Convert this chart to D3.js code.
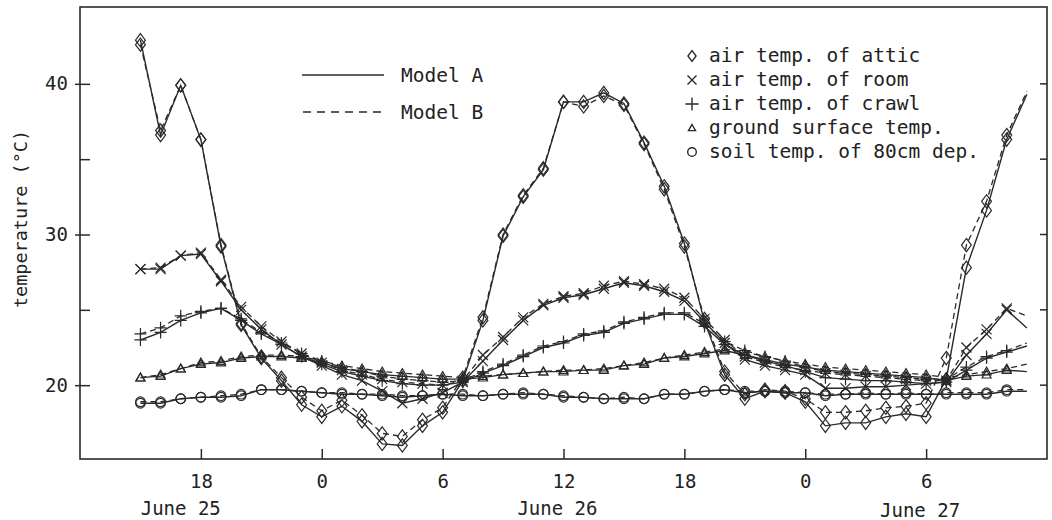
<!DOCTYPE html>
<html><head><meta charset="utf-8">
<script src="https://cdn.jsdelivr.net/npm/d3@7"></script>
<style>
html,body{margin:0;padding:0;background:#fff;}
svg{display:block;font-family:"DejaVu Sans Mono",monospace;}
</style></head>
<body><svg id="c" width="1052" height="520"></svg>
<script>
// hours relative to June 26, 0h
const hours = [-9,-8,-7,-6,-5,-4,-3,-2,-1,0,1,2,3,4,5,6,7,8,9,10,11,12,13,14,15,16,17,18,19,20,21,22,23,24,25,26,27,28,29,30,31,32,33,34,35];

const atticA = [42.9,36.6,39.9,36.3,29.2,24.0,21.8,20.3,18.7,17.9,18.6,17.6,16.1,16.0,17.3,18.2,20.3,24.3,29.9,32.5,34.3,38.8,38.8,39.4,38.7,36.1,33.2,29.4,24.2,20.7,19.1,19.6,19.5,18.9,17.3,17.5,17.5,17.9,18.1,17.9,20.4,27.8,31.6,36.3,39.3];
const atticB = [42.6,36.9,39.9,36.3,29.3,24.1,21.9,20.5,19.2,18.3,19.0,18.0,16.8,16.6,17.7,18.5,20.5,24.5,30.0,32.6,34.4,38.8,38.5,39.2,38.6,36.0,33.0,29.2,24.4,20.9,19.4,19.7,19.6,19.1,18.2,18.2,18.3,18.5,18.6,18.8,21.8,29.3,32.2,36.6,39.5];

const roomA = [27.7,27.7,28.6,28.7,26.9,25.0,23.7,22.7,21.9,21.3,20.7,20.3,19.6,18.8,19.1,19.5,20.2,21.6,23.0,24.3,25.3,25.8,26.0,26.4,26.8,26.6,26.2,25.6,24.2,22.8,21.7,21.3,21.0,20.7,19.8,19.8,19.9,19.9,20.0,20.1,20.2,22.0,23.4,25.0,23.8];
const roomB = [27.7,27.8,28.6,28.8,27.0,25.2,23.9,22.9,22.1,21.5,21.0,20.7,20.4,20.2,20.1,20.0,20.3,22.0,23.2,24.5,25.4,25.9,26.1,26.6,26.9,26.7,26.4,25.8,24.4,23.0,21.9,21.5,21.2,21.0,20.8,20.7,20.6,20.5,20.4,20.3,20.3,22.5,23.7,25.1,24.6];

const crawlA = [23.0,23.5,24.3,24.8,25.1,24.3,23.4,22.7,21.9,21.4,20.9,20.6,20.3,20.1,20.0,20.0,20.2,20.8,21.3,21.9,22.5,22.8,23.3,23.5,24.1,24.4,24.7,24.7,23.9,22.7,22.0,21.6,21.3,20.9,20.5,20.4,20.3,20.3,20.2,20.1,20.2,21.0,21.8,22.2,22.6];
const crawlB = [23.4,23.8,24.6,24.9,25.1,24.4,23.5,22.8,22.1,21.6,21.2,20.9,20.6,20.4,20.3,20.2,20.3,20.9,21.4,22.0,22.6,22.9,23.4,23.6,24.2,24.5,24.8,24.8,24.1,22.9,22.3,21.9,21.6,21.2,20.9,20.8,20.7,20.6,20.5,20.4,20.4,21.2,21.9,22.3,22.8];

const groundA = [20.5,20.6,21.1,21.4,21.5,21.8,21.9,21.9,21.8,21.5,21.1,20.9,20.7,20.6,20.5,20.4,20.4,20.5,20.7,20.8,20.9,20.9,21.0,21.0,21.3,21.4,21.8,21.9,22.1,22.3,22.0,21.7,21.4,21.2,21.0,20.9,20.8,20.7,20.6,20.5,20.3,20.6,20.7,21.0,20.9];
const groundB = [20.5,20.7,21.1,21.5,21.6,21.9,22.0,22.0,21.9,21.6,21.3,21.1,20.9,20.8,20.7,20.6,20.5,20.6,20.7,20.8,20.9,21.0,21.0,21.1,21.3,21.5,21.8,22.0,22.2,22.4,22.2,21.9,21.6,21.4,21.2,21.1,21.0,20.9,20.8,20.7,20.5,20.7,20.9,21.1,21.4];

const soilA = [18.8,18.8,19.1,19.2,19.2,19.3,19.7,19.7,19.6,19.5,19.4,19.4,19.3,19.2,19.3,19.4,19.3,19.3,19.4,19.4,19.4,19.2,19.2,19.1,19.1,19.1,19.4,19.4,19.6,19.7,19.5,19.6,19.5,19.5,19.3,19.4,19.4,19.4,19.4,19.4,19.4,19.4,19.4,19.6,19.6];
const soilB = [18.9,18.9,19.1,19.2,19.3,19.4,19.7,19.7,19.6,19.5,19.5,19.4,19.4,19.3,19.3,19.4,19.4,19.3,19.4,19.5,19.4,19.3,19.2,19.1,19.2,19.1,19.4,19.4,19.6,19.7,19.6,19.6,19.6,19.5,19.4,19.4,19.5,19.4,19.5,19.4,19.5,19.5,19.5,19.7,19.7];

const xTickHours = [-6,0,6,12,18,24,30];
const xTickLabels = ["18","0","6","12","18","0","6"];
const dayLabels = ["June 25","June 26","June 27"];
const dayLabelHours = [-7,11.7,29.7];
const yTicks = [20,25,30,35,40];
const modelNames = ["Model A","Model B"];
const seriesNames = ["air temp. of attic","air temp. of room","air temp. of crawl","ground surface temp.","soil temp. of 80cm dep."];
const yTitle = "temperature (°C)";

const svg = d3.select("#c");
const L=80, R=1047, T=7, B=459;
const x = d3.scaleLinear().domain([-12,36]).range([L,R]);
const y = d3.scaleLinear().domain([15.1,45.1]).range([B,T]);
const ink = "#2a2a2a";

// frame
svg.append("rect").attr("x",L).attr("y",T).attr("width",R-L).attr("height",B-T)
  .attr("fill","none").attr("stroke",ink).attr("stroke-width",1.6);

// bottom axis
const xa = svg.append("g").attr("transform",`translate(0,${B})`)
  .call(d3.axisBottom(x).tickValues(xTickHours).tickFormat((d,i)=>xTickLabels[i]).tickSizeInner(-10).tickSizeOuter(0).tickPadding(4));
xa.select(".domain").remove();
xa.selectAll("line").attr("stroke",ink).attr("stroke-width",1.5);
xa.selectAll("text").attr("font-size",19).attr("fill","#222").attr("font-family","DejaVu Sans Mono").attr("y",16).attr("dy","0.71em");

// day labels
svg.append("g").selectAll("text").data(dayLabels).join("text")
  .attr("x",(d,i)=>x(dayLabelHours[i])).attr("y",(d,i)=> i===2?517:515)
  .attr("text-anchor","middle").attr("font-size",19).attr("fill","#222").text(d=>d);

// left axis
const ya = svg.append("g").attr("transform",`translate(${L},0)`)
  .call(d3.axisLeft(y).tickValues(yTicks).tickFormat(d=> d%10===0? d : "").tickSizeOuter(0).tickSize(5).tickPadding(7));
ya.select(".domain").remove();
ya.selectAll(".tick line").attr("stroke",ink).attr("stroke-width",1.5)
  .attr("x1",d=> d%10===0? -5:0).attr("x2",10);
ya.selectAll("text").attr("font-size",19).attr("fill","#222").attr("font-family","DejaVu Sans Mono");

// right ticks
svg.append("g").selectAll("line").data(yTicks).join("line")
  .attr("x1",R-7).attr("x2",R).attr("y1",d=>y(d)).attr("y2",d=>y(d))
  .attr("stroke",ink).attr("stroke-width",1.5);

// y title
svg.append("text").attr("transform","translate(27,219) rotate(-90)")
  .attr("text-anchor","middle").attr("font-size",18.5).attr("fill","#222").text(yTitle);

// symbols
function sym(g, type, cx, cy, s){
  if(type==="diamond"){
    g.append("path").attr("d",`M${cx},${cy-s*0.6}L${cx+s*0.45},${cy}L${cx},${cy+s*0.6}L${cx-s*0.45},${cy}Z`);
  } else if(type==="x"){
    const h=s*0.5;
    g.append("path").attr("d",`M${cx-h},${cy-h}L${cx+h},${cy+h}M${cx-h},${cy+h}L${cx+h},${cy-h}`);
  } else if(type==="plus"){
    const h=s*0.55;
    g.append("path").attr("d",`M${cx-h},${cy}L${cx+h},${cy}M${cx},${cy-h}L${cx},${cy+h}`);
  } else if(type==="tri"){
    const h=s*0.5;
    g.append("path").attr("d",`M${cx},${cy-h}L${cx+h},${cy+h*0.75}L${cx-h},${cy+h*0.75}Z`);
  } else {
    g.append("circle").attr("cx",cx).attr("cy",cy).attr("r",s*0.48);
  }
}

const series = [
  {a:atticA,b:atticB,t:"diamond",s:11},
  {a:roomA,b:roomB,t:"x",s:10},
  {a:crawlA,b:crawlB,t:"plus",s:11},
  {a:groundA,b:groundB,t:"tri",s:9},
  {a:soilA,b:soilB,t:"circle",s:10}
];
const line = d3.line().x((d,i)=>x(hours[i])).y(d=>y(d));
const plot = svg.append("g");
series.forEach(sr=>{
  plot.append("path").attr("d",line(sr.b)).attr("fill","none").attr("stroke",ink)
    .attr("stroke-width",1.3).attr("stroke-dasharray","6,4");
  plot.append("path").attr("d",line(sr.a)).attr("fill","none").attr("stroke",ink)
    .attr("stroke-width",1.4);
});
series.forEach(sr=>{
  const g = plot.append("g").attr("fill","none").attr("stroke",ink).attr("stroke-width",1.2);
  [sr.a, sr.b].forEach(arr=>{
    arr.forEach((v,i)=>{ if(i<arr.length-1) sym(g, sr.t, x(hours[i]), y(v), sr.s); });
  });
});

// model legend
const lg = svg.append("g");
lg.append("line").attr("x1",302).attr("x2",384).attr("y1",75).attr("y2",75).attr("stroke",ink).attr("stroke-width",1.6);
lg.append("line").attr("x1",303).attr("x2",386).attr("y1",112).attr("y2",112).attr("stroke",ink).attr("stroke-width",1.6).attr("stroke-dasharray","8,6");
lg.selectAll("text").data(modelNames).join("text")
  .attr("x",401).attr("y",(d,i)=> i===0?82:119).attr("font-size",19.5).attr("fill","#222").text(d=>d);

// series legend
const types = ["diamond","x","plus","tri","circle"];
const sizes = [9,9,12,7,9];
const sg = svg.append("g");
seriesNames.forEach((n,i)=>{
  const by = 62 + i*24;
  const g = sg.append("g").attr("fill","none").attr("stroke",ink).attr("stroke-width",1.4);
  sym(g, types[i], 692, by-6, sizes[i]);
  sg.append("text").attr("x",709).attr("y",by).attr("font-size",19.5).attr("fill","#222").text(n);
});
</script></body></html>
